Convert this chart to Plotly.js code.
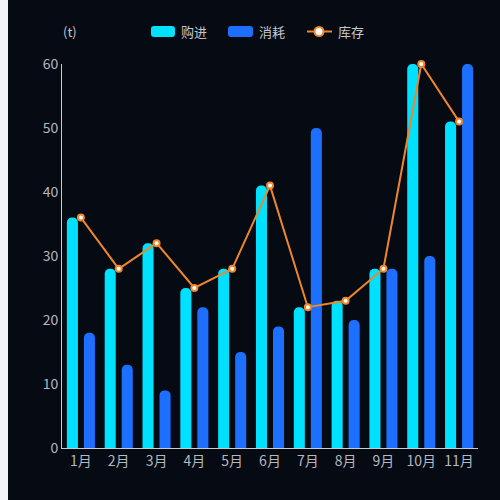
<!DOCTYPE html>
<html>
<head>
<meta charset="utf-8">
<script src="https://cdn.plot.ly/plotly-3.0.1.min.js"></script>
<style>
    html, body { margin: 0; padding: 0; background: #f3f4f8; }
    #chart { position: absolute; left: 8px; top: 0; width: 492px; height: 500px; background: #050a13; }
</style>
</head>
<body>
<div id="chart"></div>
<script>
const months = ["1月", "2月", "3月", "4月", "5月", "6月", "7月", "8月", "9月", "10月", "11月"];
const purchase = [36, 28, 32, 25, 28, 41, 22, 23, 28, 60, 51];
const consume = [18, 13, 9, 22, 15, 19, 50, 20, 28, 30, 60];
const stock = [36, 28, 32, 25, 28, 41, 22, 23, 28, 60, 51];

const fontFamily = "'Noto Sans CJK SC', 'Noto Sans', sans-serif";
const cyan = "#00e0ff";
const blue = "#1d6fff";
const orange = "#f0862a";

// plot area in pixels, used to place the hand-made legend
const W = 492, H = 500;
const M = { l: 54, r: 22, t: 64, b: 52 };
const PW = W - M.l - M.r, PH = H - M.t - M.b;
function px(x){ return (x - M.l) / PW; }
function py(y){ return (H - M.b - y) / PH; }

function roundRect(x0, y0, x1, y1, r){
    let p = [
        "M", px(x0 + r), py(y0),
        "L", px(x1 - r), py(y0),
        "Q", px(x1), py(y0), px(x1), py(y0 + r),
        "L", px(x1), py(y1 - r),
        "Q", px(x1), py(y1), px(x1 - r), py(y1),
        "L", px(x0 + r), py(y1),
        "Q", px(x0), py(y1), px(x0), py(y1 - r),
        "L", px(x0), py(y0 + r),
        "Q", px(x0), py(y0), px(x0 + r), py(y0),
        "Z"
    ];
    return p.join(" ");
}

let trace_purchase = {
    x: months,
    y: purchase,
    type: "bar",
    name: "购进",
    cliponaxis: false,
    marker: { color: cyan, cornerradius: 6 }
};

let trace_consume = {
    x: months,
    y: consume,
    type: "bar",
    name: "消耗",
    cliponaxis: false,
    marker: { color: blue, cornerradius: 6 }
};

let trace_stock = {
    x: months,
    y: stock,
    type: "scatter",
    mode: "lines+markers",
    name: "库存",
    cliponaxis: false,
    line: { color: orange, width: 2 },
    marker: { color: "#ffffff", size: 6, line: { color: orange, width: 2 } }
};

let legendFont = { size: 13, color: "#c4c7cc" };
let legendY = py(31.5);

let layout = {
    width: W,
    height: H,
    paper_bgcolor: "#050a13",
    plot_bgcolor: "#050a13",
    font: { family: fontFamily, color: "#b4b8bf", size: 14 },
    margin: M,
    barmode: "group",
    bargap: 0.1,
    bargroupgap: 0.35,
    showlegend: false,
    xaxis: {
        type: "category",
        range: [-0.5, months.length - 0.5],
        showline: true,
        linecolor: "#c8ccd2",
        linewidth: 1,
        showgrid: false,
        ticks: "",
        zeroline: false,
        tickfont: { size: 14, color: "#b4b8bf" }
    },
    yaxis: {
        range: [0, 60],
        dtick: 10,
        showline: true,
        linecolor: "#c8ccd2",
        linewidth: 1,
        showgrid: false,
        zeroline: false,
        ticks: "",
        tickfont: { size: 14, color: "#b4b8bf" }
    },
    shapes: [
        { type: "path", xref: "paper", yref: "paper", path: roundRect(143, 26, 167, 37, 3), fillcolor: cyan, line: { width: 0 } },
        { type: "path", xref: "paper", yref: "paper", path: roundRect(220, 26, 245, 37, 3), fillcolor: blue, line: { width: 0 } },
        { type: "line", xref: "paper", yref: "paper", x0: px(299), x1: px(324), y0: legendY, y1: legendY, line: { color: orange, width: 2 } },
        { type: "circle", xref: "paper", yref: "paper", x0: px(306.5), x1: px(315.5), y0: py(36), y1: py(27), fillcolor: "#ffffff", line: { color: orange, width: 2 } }
    ],
    annotations: [
        { text: "(t)", x: px(62), xanchor: "center" },
        { text: "购进", x: px(171), xanchor: "left" },
        { text: "消耗", x: px(249), xanchor: "left" },
        { text: "库存", x: px(328), xanchor: "left" }
    ].map(a => Object.assign({
        xref: "paper", yref: "paper", y: legendY, yanchor: "middle",
        showarrow: false, font: legendFont
    }, a))
};

Plotly.newPlot("chart", [trace_purchase, trace_consume, trace_stock], layout, {displayModeBar: false});
</script>
</body>
</html>
